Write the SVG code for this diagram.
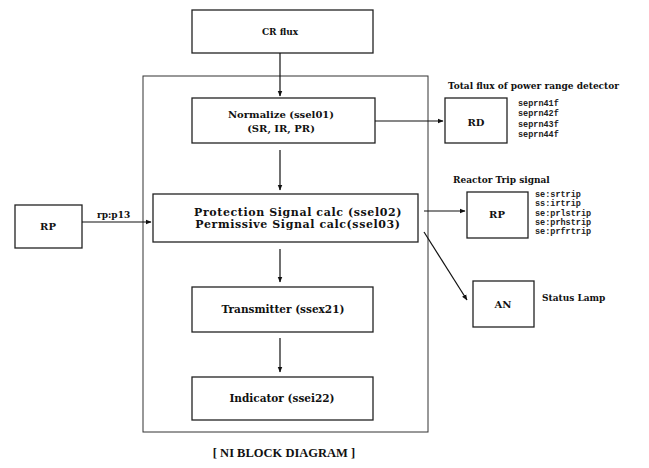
<svg xmlns="http://www.w3.org/2000/svg" width="649" height="468" viewBox="0 0 649 468">
<style>
.box{fill:#fff;stroke:#222;stroke-width:1.3}
.frame{fill:none;stroke:#333;stroke-width:1}
.lbl{font-family:"DejaVu Serif","Liberation Serif",serif;font-weight:bold;fill:#111;text-anchor:middle}
.sm{font-family:"Liberation Mono","DejaVu Sans Mono",monospace;font-weight:bold;fill:#222;font-size:8.5px}
.cap{font-family:"DejaVu Serif","Liberation Serif",serif;font-weight:bold;fill:#111;font-size:9px}
.conn{stroke:#111;stroke-width:1.2;fill:none;marker-end:url(#ah)}
</style>
<defs>
<marker id="ah" viewBox="0 0 10 10" refX="9" refY="5" markerWidth="6" markerHeight="6" orient="auto" markerUnits="userSpaceOnUse">
<path d="M0,1 L10,5 L0,9 z" fill="#111"/>
</marker>
</defs>
<rect width="649" height="468" fill="#fff"/>
<rect id="frame" class="frame" x="143" y="76" width="285" height="356"/>
<g id="crflux"><rect class="box" x="192" y="10" width="181" height="43"/><text class="lbl" x="280" y="35" font-size="9">CR flux</text></g>
<g id="normalize"><rect class="box" x="192" y="98" width="183" height="45"/><text class="lbl" x="281" y="118" font-size="10">Normalize (ssel01)</text><text class="lbl" x="281" y="132" font-size="10">(SR, IR, PR)</text></g>
<g id="rd"><rect class="box" x="445" y="98" width="62" height="45"/><text class="lbl" x="476" y="126" font-size="10">RD</text>
<text class="cap" x="448" y="89" font-size="9.7">Total flux of power range detector</text>
<text class="sm" x="518" y="106" font-size="9.3">seprn41f</text><text class="sm" x="518" y="116" font-size="9.3">seprn42f</text><text class="sm" x="518" y="127" font-size="9.3">seprn43f</text><text class="sm" x="518" y="137" font-size="9.3">seprn44f</text></g>
<g id="protection"><rect class="box" x="153" y="194" width="265" height="48"/><text class="lbl" x="298" y="216" font-size="11" letter-spacing="0.6">Protection Signal calc (ssel02)</text><text class="lbl" x="298" y="228" font-size="11" letter-spacing="0.6">Permissive Signal calc(ssel03)</text></g>
<g id="rp-left"><rect class="box" x="15" y="205" width="67" height="43"/><text class="lbl" x="48" y="230" font-size="10">RP</text></g>
<g id="rp-right"><rect class="box" x="467" y="192" width="61" height="46"/><text class="lbl" x="497" y="218" font-size="10">RP</text>
<text class="cap" x="453" y="183" font-size="9.7">Reactor Trip signal</text>
<text class="sm" x="535" y="197" font-size="8">se:srtrip</text><text class="sm" x="535" y="206" font-size="8">ss:irtrip</text><text class="sm" x="535" y="216" font-size="8">se:prlstrip</text><text class="sm" x="535" y="225" font-size="8">se:prhstrip</text><text class="sm" x="535" y="234" font-size="8">se:prfrtrip</text></g>
<g id="an"><rect class="box" x="473" y="281" width="61" height="46"/><text class="lbl" x="503" y="308" font-size="10">AN</text><text class="cap" x="542" y="301">Status Lamp</text></g>
<g id="transmitter"><rect class="box" x="192" y="287" width="181" height="45"/><text class="lbl" x="283" y="313" font-size="10.5">Transmitter (ssex21)</text></g>
<g id="indicator"><rect class="box" x="192" y="377" width="181" height="43"/><text class="lbl" x="282" y="402" font-size="10.5">Indicator (ssei22)</text></g>
<g id="connectors">
<line class="conn" x1="280" y1="53" x2="280" y2="96"/>
<line class="conn" x1="375" y1="121" x2="443" y2="121"/>
<line class="conn" x1="280" y1="150" x2="280" y2="190"/>
<line class="conn" x1="82" y1="222" x2="151" y2="222"/>
<text class="cap" x="97" y="218">rp:p13</text>
<line class="conn" x1="424" y1="211" x2="465" y2="211"/>
<line class="conn" x1="424" y1="232" x2="467" y2="300"/>
<line class="conn" x1="280" y1="249" x2="280" y2="282"/>
<line class="conn" x1="280" y1="338" x2="280" y2="372"/>
</g>
<text id="caption" x="284" y="457" font-family="Liberation Serif,serif" font-weight="bold" font-size="12.5" text-anchor="middle" fill="#111">[ NI BLOCK DIAGRAM ]</text>
</svg>
